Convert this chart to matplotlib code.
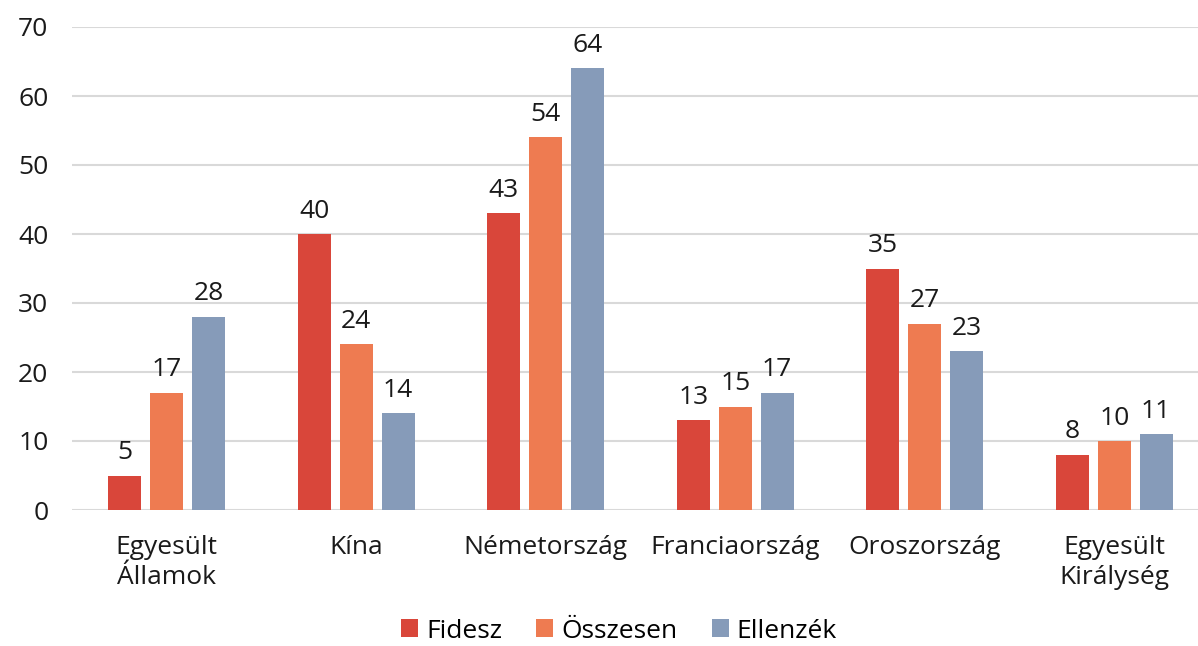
import numpy as np
import matplotlib.pyplot as plt

plt.rcParams['font.family'] = ['Open Sans', 'DejaVu Sans']

# data
categories = ["Egyesült\nÁllamok", "Kína", "Németország", "Franciaország",
              "Oroszország", "Egyesült\nKirálység"]
fidesz = [5, 40, 43, 13, 35, 8]
osszesen = [17, 24, 54, 15, 27, 10]
ellenzek = [28, 14, 64, 17, 23, 11]
series_names = ["Fidesz", "Összesen", "Ellenzék"]
colors = ["#D9463A", "#EE7B51", "#869BB9"]

fig = plt.figure(figsize=(11.98, 6.46), dpi=100)
ax = fig.add_axes([72 / 1198, 1 - 510 / 646, 1137 / 1198, 483 / 646])

x = np.arange(len(categories))
w = 0.174
step = 0.221
for i, (vals, name, c) in enumerate(zip([fidesz, osszesen, ellenzek], series_names, colors)):
    bars = ax.bar(x + (i - 1) * step, vals, w, color=c, label=name, zorder=3)
    for b, v in zip(bars, vals):
        ax.text(b.get_x() + b.get_width() / 2, v + 1.5, str(v), ha="center", va="bottom",
                fontsize=19, color="#1a1a1a")

ax.set_xlim(-0.5, len(categories) - 0.5)
ax.set_ylim(0, 70)
ax.set_yticks(range(0, 71, 10))
ax.grid(axis="y", color="#d9d9d9", linewidth=1.5, zorder=0)
ax.tick_params(axis="y", length=0, pad=17, labelsize=19, labelcolor="#1a1a1a")
ax.tick_params(axis="x", length=0, pad=18, labelsize=19, labelcolor="#1a1a1a")
ax.set_xticks(x)
ax.set_xticklabels(categories, linespacing=1.25)
for s in ax.spines.values():
    s.set_visible(False)

fig.legend(loc="center", bbox_to_anchor=(619 / 1198, 1 - 631 / 646), ncol=3, frameon=False,
           fontsize=19, handlelength=0.65, handleheight=0.65, handletextpad=0.3,
           columnspacing=1.3, borderaxespad=0, borderpad=0.2)

fig.savefig("out.png", dpi=100)
